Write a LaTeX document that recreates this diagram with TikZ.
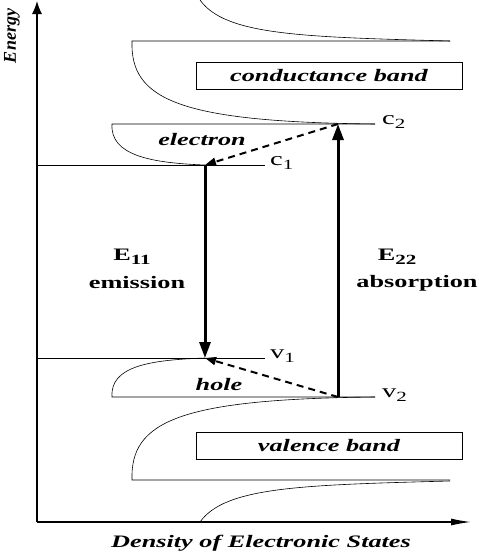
\documentclass[tikz,border=0pt]{standalone}
\usepackage{fontspec}
\setmainfont{Liberation Serif}[FakeStretch=1.5]
\newfontfamily\plainserif{Liberation Serif}
\usetikzlibrary{arrows.meta, positioning}
\newcommand{\lowsub}[1]{\raisebox{-0.5ex}{\fontsize{14}{14}\selectfont #1}}

\begin{document}
\begin{tikzpicture}[
    x=1pt, y=-1pt,
    axis/.style={line width=1.3pt},
    dos/.style={line width=0.6pt},
    trans/.style={line width=3pt, -{Triangle[length=16pt, width=11pt]}},
    relax/.style={line width=2pt, dash pattern=on 7pt off 5pt, -{Triangle[length=11pt, width=8pt]}},
    bandbox/.style={draw, line width=0.8pt, minimum width=266pt, minimum height=27pt, inner sep=0pt, font=\fontsize{17.5}{20}\selectfont\bfseries\itshape},
    lbl/.style={font=\fontsize{17.5}{20}\selectfont\bfseries, inner sep=0pt},
    lvl/.style={font=\fontsize{19}{20}\selectfont, inner sep=0pt}
]
\useasboundingbox (0,0) rectangle (479,554);

% axes
\coordinate (origin) at (37,522);
\coordinate (ytop) at (37,1);
\coordinate (xend) at (471,522);
\draw[axis, -{Latex[length=13pt, width=10pt]}] (origin) -- (ytop);
\draw[axis, -{Latex[length=20pt, width=7pt]}] (origin) -- (xend);
\node[rotate=90, font=\plainserif\fontsize{18}{20}\selectfont\bfseries\itshape] (energy) at (12,36) {Energy};
\node[font=\fontsize{17.5}{20}\selectfont\bfseries\itshape] (states) at (261,543) {Density of Electronic States};

% band edges
\coordinate (c1) at (205,165);
\coordinate (c2) at (338,124);
\coordinate (v1) at (205,358);
\coordinate (v2) at (338,397);

% density of states, conduction side
\draw[dos] (200,0) .. controls (225,35) and (300,37) .. (450,41);
\draw[dos] (450,41) -- (132,41) .. controls (130,100) and (180,122) .. (375,124);
\draw[dos] (375,124) -- (112,124) .. controls (110,155) and (150,163) .. (205,165);
\draw[dos] (37,165) -- (265,165);

% density of states, valence side
\draw[dos] (37,358) -- (265,358);
\draw[dos] (205,358) .. controls (150,360) and (110,366) .. (112,397) -- (375,397);
\draw[dos] (375,397) .. controls (180,399) and (130,421) .. (132,480) -- (450,480);
\draw[dos] (200,522) .. controls (225,487) and (300,485) .. (450,481);

\node[bandbox] (cband) at (329,75.5) {conductance band};
\node[bandbox] (vband) at (329,446) {valence band};

% level labels
\node[lvl, base right=65pt of c1] (c1lbl) {c\lowsub{1}};
\node[lvl, base right=44pt of c2] (c2lbl) {c\lowsub{2}};
\node[lvl, base right=65pt of v1] (v1lbl) {v\lowsub{1}};
\node[lvl, base right=44pt of v2] (v2lbl) {v\lowsub{2}};

% transitions
\draw[trans] (c1) -- (v1);
\draw[trans] (v2) -- (c2);
\draw[relax] (c2) -- (c1);
\draw[relax] (v2) -- (v1);

\node[lbl, font=\fontsize{17.5}{20}\selectfont\bfseries\itshape] (electron) at (202,140) {electron};
\node[lbl, font=\fontsize{17.5}{20}\selectfont\bfseries\itshape] (hole) at (219,385) {hole};
\node[lbl] (e11) at (132,257) {E\lowsub{11}};
\node[lbl] (emission) at (137,283) {emission};
\node[lbl] (e22) at (397,257) {E\lowsub{22}};
\node[lbl] (absorption) at (417,283) {absorption};
\end{tikzpicture}
\end{document}
